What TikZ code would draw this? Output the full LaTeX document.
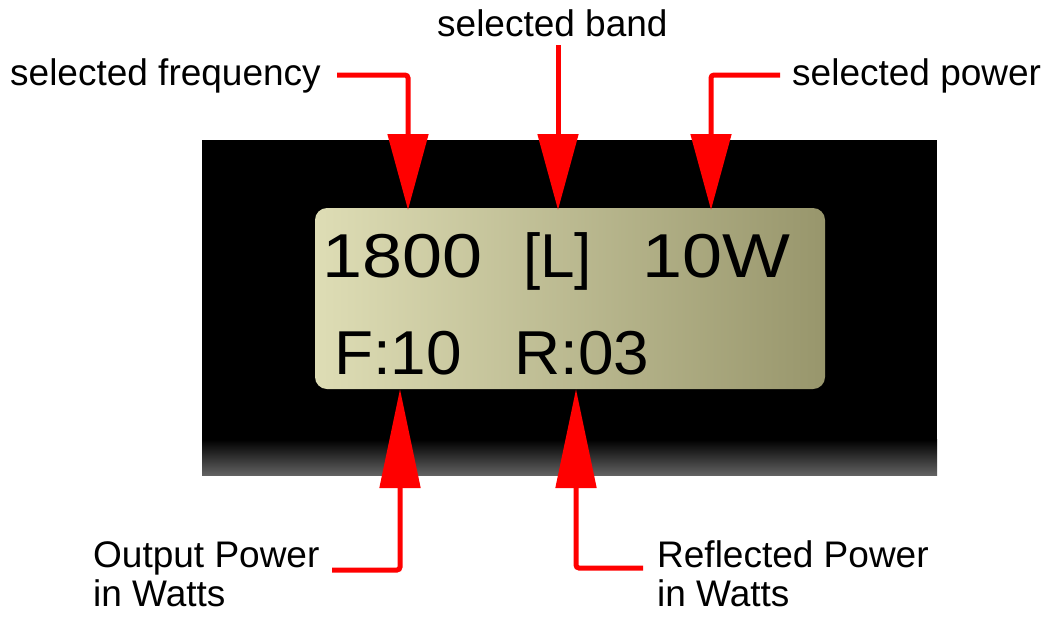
\documentclass[tikz,border=0pt]{standalone}
\usepackage{fontspec}
\setmainfont{Liberation Sans}
\newfontfamily\lcdwide[FakeStretch=1.16]{Liberation Sans}
\newfontfamily\lcdnarrow[FakeStretch=1.03]{Liberation Sans}
\usetikzlibrary{arrows.meta}
\definecolor{lcdL}{RGB}{222,221,181}
\definecolor{lcdR}{RGB}{152,150,108}
\definecolor{panelgray}{RGB}{98,98,98}
\begin{document}
\begin{tikzpicture}[x=1pt,y=-1pt,
  lbl/.style={inner sep=0pt,anchor=base west,font=\fontsize{37}{40}\selectfont},
  lcdtxt/.style={inner sep=0pt,anchor=base west,font=\fontsize{62}{62}\selectfont},
  downarrow/.style={draw=red,line width=5pt,rounded corners=3pt,-{Triangle[length=76pt,width=40pt]}},
  uparrow/.style={draw=red,line width=5pt,rounded corners=3pt,-{Triangle[length=99pt,width=40pt]}}]
\useasboundingbox (0,0) rectangle (1048,616);
\fill[white] (0,0) rectangle (1048,616);
% panel
\fill[black] (202,140) rectangle (937,440);
\shade[top color=black,bottom color=panelgray] (202,439.5) rectangle (937,475);
% LCD
\shade[left color=lcdL,right color=lcdR,rounded corners=12pt] (315,208) rectangle (825,389);
\node[lcdtxt,font=\fontsize{62}{62}\lcdwide] (lfreq) at (322,277) {1800};
\node[lcdtxt] (lband) at (523,277) {[L]};
\node[lcdtxt,font=\fontsize{62}{62}\lcdwide] (lpow) at (642,277) {10W};
\node[lcdtxt,font=\fontsize{62}{62}\lcdnarrow] (lfwd) at (334,374) {F:10};
\node[lcdtxt,font=\fontsize{62}{62}\lcdnarrow] (lref) at (514,374) {R:03};
% labels
\node[lbl] (freq) at (10,85) {selected frequency};
\node[lbl] (band) at (437,36) {selected band};
\node[lbl] (pow) at (792,85) {selected power};
\node[lbl] (out1) at (93,567) {Output Power};
\node[lbl] (out2) at (93,606) {in Watts};
\node[lbl] (ref1) at (657,567) {Reflected Power};
\node[lbl] (ref2) at (657,606) {in Watts};
% connector ends
\coordinate (a1) at (337,75);
\coordinate (t1) at (408,210);
\coordinate (a2) at (558,45);
\coordinate (t2) at (558,210);
\coordinate (a3) at (780,75);
\coordinate (t3) at (711,210);
\coordinate (a4) at (332,570);
\coordinate (t4) at (400,389);
\coordinate (a5) at (643,568);
\coordinate (t5) at (576,389);
\draw[downarrow] (a1) -| (t1);
\draw[downarrow] (a2) -- (t2);
\draw[downarrow] (a3) -| (t3);
\draw[uparrow] (a4) -| (t4);
\draw[uparrow] (a5) -| (t5);
\end{tikzpicture}
\end{document}
